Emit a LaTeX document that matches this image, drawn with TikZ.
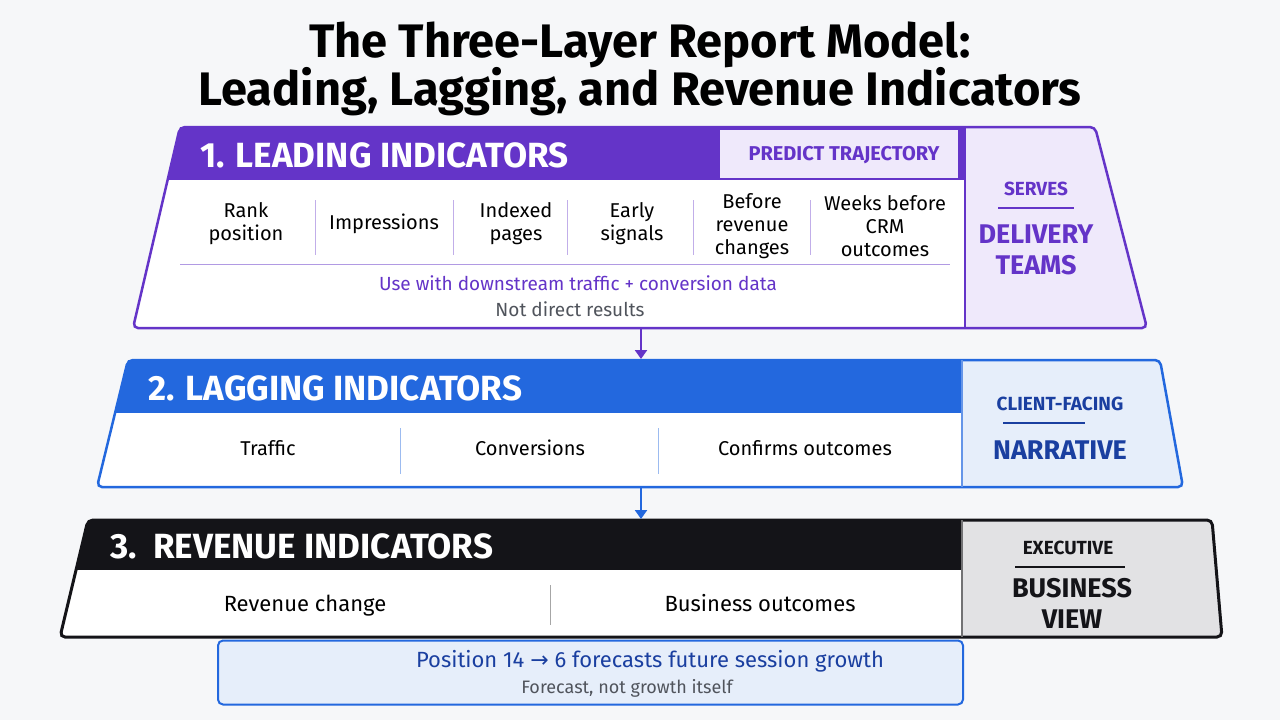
\documentclass[tikz,border=0pt]{standalone}
\usepackage{fontspec}
\setmainfont{Fira Sans}
\newfontfamily\arrowfont{DejaVu Sans}
\usetikzlibrary{arrows.meta}
\definecolor{bg}{HTML}{F6F7F9}
\definecolor{purp}{HTML}{6434C8}
\definecolor{lpurp}{HTML}{EFE9FB}
\definecolor{blu}{HTML}{2368DE}
\definecolor{dblu}{HTML}{1A3FA0}
\definecolor{lblu}{HTML}{E6EEFA}
\definecolor{blk}{HTML}{141418}
\definecolor{lgray}{HTML}{E2E2E4}
\definecolor{txtgray}{HTML}{50545C}
\newcommand{\fs}[1]{\fontsize{#1}{\numexpr#1*23/20\relax}\selectfont}
\tikzset{
 body/.style={font=\fs{20}, text=black, align=center, inner sep=0},
 head/.style={font=\fs{35}\bfseries, text=white, anchor=west, inner sep=0},
 side/.style={font=\fs{27}\bfseries, align=center, inner sep=0},
 sidesm/.style={font=\fs{19}\bfseries, align=center, inner sep=0},
 sep/.style={line width=0.8pt},
 conn/.style={line width=2.5pt, -{Triangle[length=9pt,width=12pt]}},
}
\begin{document}
\begin{tikzpicture}[x=1pt,y=-1pt]
\fill[bg] (0,0) rectangle (1280,720);
\useasboundingbox (0,0) rectangle (1280,720);
% title
\node[font=\fs{47}\bfseries, align=center, inner sep=0] (title) at (640,69) {The Three-Layer Report Model:\\[-6pt]Leading, Lagging, and Revenue Indicators};

% ---------- Layer 1
\def\trapA{(180,127) -- (1095,127) -- (1147,328) -- (133,328) -- cycle}
\fill[white, rounded corners=5pt] \trapA;
\begin{scope}
\clip \trapA;
\fill[purp] (100,120) rectangle (965,180);
\fill[lpurp] (965,120) rectangle (1160,340);
\end{scope}
\draw[purp, line width=2.5pt, rounded corners=5pt] \trapA;
\draw[purp, line width=2pt] (965,127) -- (965,328);
\fill[lpurp] (720,130) rectangle (958,178);
\node[font=\fs{20}\bfseries, text=purp, inner sep=0] (pt) at (844,155) {PREDICT TRAJECTORY};
\node[head] (h1) at (200,155) {1. LEADING INDICATORS};
\foreach \x in {315,453,567,693,810} \draw[sep, purp!40] (\x,200) -- (\x,255);
\node[body] (a1) at (246,224) {Rank\\position};
\node[body] (a2) at (384,224) {Impressions};
\node[body] (a3) at (516,224) {Indexed\\pages};
\node[body] (a4) at (632,224) {Early\\signals};
\node[body] (a5) at (752,226) {Before\\revenue\\changes};
\node[body] (a6) at (885,226) {Weeks before\\CRM\\outcomes};
\draw[sep, purp!50] (180,264) -- (950,264);
\node[body, text=purp, font=\fs{19}] (u1) at (578,283) {Use with downstream traffic + conversion data};
\node[body, text=txtgray, font=\fs{19}] (n1) at (570,309) {Not direct results};
\node[sidesm, text=purp] (s1) at (1036,189) {SERVES};
\draw[purp, line width=2pt] (998,208) -- (1074,208);
\node[side, text=purp] (s2) at (1036,250) {DELIVERY\\TEAMS};

% ---------- Layer 2
\def\trapB{(128,360) -- (1160,360) -- (1183,487) -- (97,487) -- cycle}
\fill[white, rounded corners=5pt] \trapB;
\begin{scope}
\clip \trapB;
\fill[blu] (90,350) rectangle (962,413);
\fill[lblu] (962,350) rectangle (1190,495);
\end{scope}
\draw[blu, line width=2.5pt, rounded corners=5pt] \trapB;
\draw[blu!70, line width=2pt] (962,360) -- (962,487);
\node[head] (h2) at (148,388) {2. LAGGING INDICATORS};
\foreach \x in {400,658} \draw[sep, blu!45] (\x,428) -- (\x,474);
\node[body, anchor=base] (b1) at (268,455) {Traffic};
\node[body, anchor=base] (b2) at (530,455) {Conversions};
\node[body, anchor=base] (b3) at (805,455) {Confirms outcomes};
\node[sidesm, text=dblu] (c1) at (1060,404) {CLIENT-FACING};
\draw[dblu, line width=2pt] (1003,423) -- (1085,423);
\node[side, text=dblu] (c2) at (1060,450) {NARRATIVE};

% ---------- Layer 3
\def\trapC{(88,520) -- (1212,520) -- (1222,637) -- (60,637) -- cycle}
\fill[white, rounded corners=5pt] \trapC;
\begin{scope}
\clip \trapC;
\fill[blk] (50,510) rectangle (962,570);
\fill[lgray] (962,510) rectangle (1230,645);
\end{scope}
\draw[blk, line width=3pt, rounded corners=5pt] \trapC;
\draw[blk!60, line width=1.5pt] (962,520) -- (962,637);
\node[head] (h3) at (110,546) {3.\ \ REVENUE INDICATORS};
\draw[sep, gray!70] (550,585) -- (550,625);
\node[body, font=\fs{22}, anchor=base] (r1) at (305,611) {Revenue change};
\node[body, font=\fs{22}, anchor=base] (r2) at (760,611) {Business outcomes};
\node[sidesm, text=blk] (e1) at (1068,548) {EXECUTIVE};
\draw[blk, line width=2pt] (1015,567) -- (1125,567);
\node[side, text=blk] (e2) at (1072,603) {BUSINESS\\VIEW};

% ---------- Bottom note
\node[draw=blu, line width=2pt, fill=lblu, rounded corners=5pt, minimum width=745pt, minimum height=64pt, inner sep=0] (note) at (590.5,672.5) {};
\node[body, text=dblu, font=\fs{22}] (p1) at (650,661) {Position 14 {\arrowfont →} 6 forecasts future session growth};
\node[body, text=txtgray, font=\fs{18}] (p2) at (627,688) {Forecast, not growth itself};

% connectors
\coordinate (l1b) at (641,329);
\coordinate (l2t) at (641,359);
\coordinate (l2b) at (641,488);
\coordinate (l3t) at (641,519);
\draw[conn, purp] (l1b) -- (l2t);
\draw[conn, blu] (l2b) -- (l3t);
\end{tikzpicture}
\end{document}
